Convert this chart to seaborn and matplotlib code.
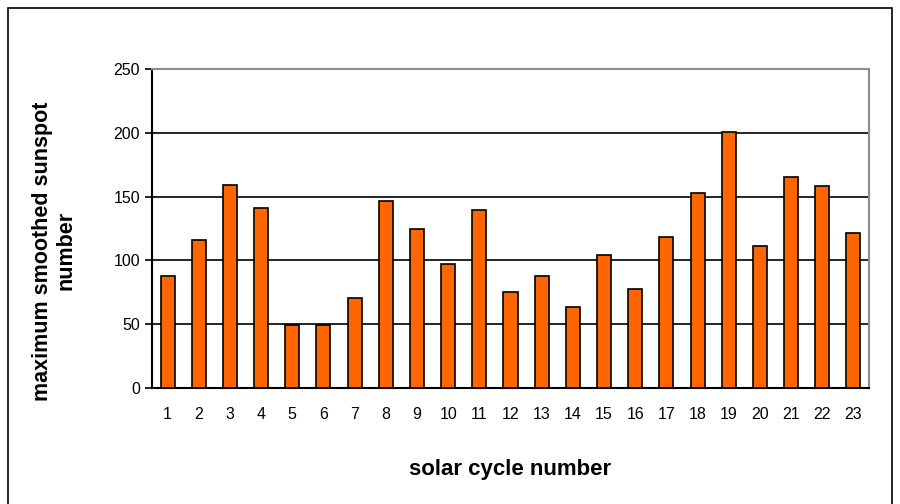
import numpy as np
import pandas as pd
import matplotlib
matplotlib.use("Agg")
import matplotlib.pyplot as plt
import seaborn as sns
from matplotlib.patches import Rectangle

# max smoothed sunspot number per solar cycle
cycles = [str(i) for i in range(1, 24)]
max_sunspots = [87.5, 115.7, 159.4, 141.4, 49.2, 49.0, 70.7, 146.9, 124.3, 97.4,
                139.8, 74.9, 87.4, 63.6, 104.5, 77.7, 118.6, 152.6, 200.5, 111.5,
                165.2, 158.1, 121.5]

df = pd.DataFrame({"cycle": cycles, "sunspots": max_sunspots})

sns.set_style("white")
plt.rcParams['font.family'] = ['Liberation Sans', 'DejaVu Sans']
plt.rcParams['text.color'] = 'black'
plt.rcParams['axes.labelcolor'] = 'black'
plt.rcParams['xtick.color'] = 'black'
plt.rcParams['ytick.color'] = 'black'

fig = plt.figure(figsize=(9, 5.04), dpi=100)
ax = fig.add_axes([152 / 900, 1 - 388 / 504, (869 - 152) / 900, (388 - 69) / 504])

sns.barplot(data=df, x="cycle", y="sunspots", color="#FF6600", width=0.45,
            edgecolor="black", linewidth=1.2, saturation=1, ax=ax, zorder=3)

ax.set_ylim(0, 250)
ax.set_xlim(-0.5, len(cycles) - 0.5)
ax.set_yticks([0, 50, 100, 150, 200, 250])
ax.yaxis.grid(True, color="black", linewidth=1.2, zorder=0)
ax.set_axisbelow(True)

# tick marks between categories like the original
ax.set_xticks(np.arange(-0.5, len(cycles), 1), minor=True)
ax.tick_params(axis="x", which="major", length=0, pad=14, labelsize=11.5)
ax.tick_params(axis="x", which="minor", length=5, width=1.2, color="black", direction="out")
ax.tick_params(axis="y", length=5, width=1.2, color="black", direction="out", left=True, labelsize=11.5)

for side in ["left", "bottom"]:
    ax.spines[side].set_color("black")
    ax.spines[side].set_linewidth(1.5)
for side in ["top", "right"]:
    ax.spines[side].set_visible(True)
    ax.spines[side].set_color("#8c8c8c")
    ax.spines[side].set_linewidth(1.5)

ax.set_xlabel("solar cycle number", fontsize=16, fontweight="bold", labelpad=26)
ax.set_ylabel("maximum smoothed sunspot\nnumber", fontsize=15.5, fontweight="bold")
ax.yaxis.set_label_coords(-0.105, 0.43)

# outer chart border
fig.patches.append(Rectangle((8 / 900, -0.01), (892 - 8) / 900, 1 - 8 / 504 + 0.01,
                             transform=fig.transFigure, fill=False,
                             edgecolor="black", linewidth=1.2))

fig.savefig("out.png", dpi=100)
